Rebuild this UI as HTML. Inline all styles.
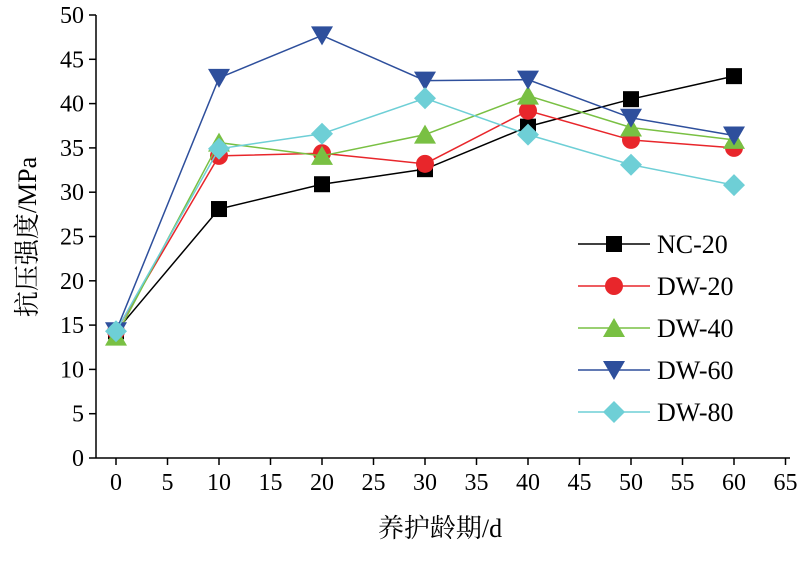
<!DOCTYPE html>
<html><head><meta charset="utf-8"><style>
body{margin:0;background:#fff}
text{font-family:"Liberation Serif","Noto Serif CJK SC",serif;fill:#000}
</style></head><body>
<svg id="chart" width="803" height="556" xmlns="http://www.w3.org/2000/svg"></svg>
<script>
const xCats=[0,10,20,30,40,50,60];
const seriesNames=["NC-20","DW-20","DW-40","DW-60","DW-80"];
const nc20=[14.3,28.1,30.9,32.6,37.4,40.5,43.1];
const dw20=[14.3,34.1,34.4,33.2,39.2,35.9,35.0];
const dw40=[13.7,35.6,34.1,36.5,40.9,37.3,35.9];
const dw60=[14.3,42.9,47.7,42.6,42.7,38.4,36.4];
const dw80=[14.3,34.9,36.6,40.6,36.5,33.1,30.8];
const xTicks=[0,5,10,15,20,25,30,35,40,45,50,55,60,65];
const yTicks=[0,5,10,15,20,25,30,35,40,45,50];
const ns="http://www.w3.org/2000/svg";
const svg=document.getElementById('chart');
const X=v=>116+v*10.3, Y=v=>458-v*8.86;
function mk(t,a,p){const e=document.createElementNS(ns,t);for(const k in a)e.setAttribute(k,a[k]);(p||svg).appendChild(e);return e;}
const ax=mk('g',{});


mk('line',{x1:96,y1:15,x2:96,y2:458,stroke:'#000','stroke-width':1.5},ax);
mk('line',{x1:96,y1:458,x2:790,y2:458,stroke:'#000','stroke-width':1.5},ax);
xTicks.forEach(v=>{mk('line',{x1:X(v),y1:458,x2:X(v),y2:465,stroke:'#000','stroke-width':1.5},ax);
 const t=mk('text',{x:X(v),y:490,'text-anchor':'middle','font-size':24},ax);t.textContent=v;
 });
yTicks.forEach(v=>{mk('line',{x1:89,y1:Y(v),x2:96,y2:Y(v),stroke:'#000','stroke-width':1.5},ax);
 const t=mk('text',{x:84,y:Y(v)+8,'text-anchor':'end','font-size':24},ax);t.textContent=v;
 });
const xl=mk('text',{x:440,y:537,'text-anchor':'middle','font-size':26});xl.textContent='养护龄期/d';

const yl=mk('text',{x:0,y:0,'text-anchor':'middle','font-size':26,transform:'translate(36,237) rotate(-90)'});yl.textContent='抗压强度/MPa';

const colors=['#000','#e8262b','#79c043','#2e4f9c','#6ecfd6'];
const shapes=['square','circle','up','down','diamond'];
function marker(g,x,y,s,c){
 if(s==='square')mk('rect',{x:x-8,y:y-8,width:16,height:16,fill:c},g);
 else if(s==='circle')mk('circle',{cx:x,cy:y,r:9,fill:c},g);
 else if(s==='up')mk('polygon',{points:`${x},${y-10} ${x+11},${y+9} ${x-11},${y+9}`,fill:c},g);
 else if(s==='down')mk('polygon',{points:`${x},${y+10} ${x+11},${y-9} ${x-11},${y-9}`,fill:c},g);
 else mk('polygon',{points:`${x},${y-11} ${x+11},${y} ${x},${y+11} ${x-11},${y}`,fill:c},g);
}
[nc20,dw20,dw40,dw60,dw80].forEach((d,i)=>{
 const g=mk('g',{});
 
 
 mk('polyline',{points:d.map((v,j)=>X(xCats[j])+','+Y(v)).join(' '),fill:'none',stroke:colors[i],'stroke-width':1.5},g);
 d.forEach((v,j)=>marker(g,X(xCats[j]),Y(v),shapes[i],colors[i]));
 const ly=244+i*42;
 const lg=mk('g',{});
 
 
 mk('line',{x1:578,y1:ly,x2:650,y2:ly,stroke:colors[i],'stroke-width':1.5},lg);
 marker(lg,614,ly,shapes[i],colors[i]);
 const t=mk('text',{x:657,y:ly+9,'font-size':26},lg);t.textContent=seriesNames[i];
});
</script>
</body></html>
